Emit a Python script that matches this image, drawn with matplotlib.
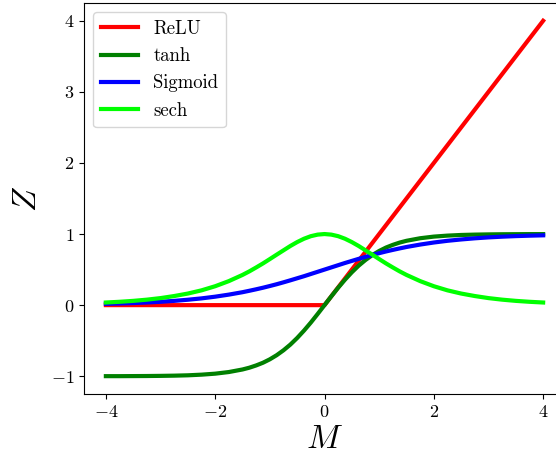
import matplotlib
matplotlib.use("Agg")
import matplotlib.pyplot as plt

plt.rcParams["font.family"] = "serif"
plt.rcParams["font.serif"] = ["cmr10"]
plt.rcParams["mathtext.fontset"] = "cm"
plt.rcParams["axes.formatter.use_mathtext"] = True

# sample positions along M (denser near the centre)
m = [-4.0, -3.75, -3.5, -3.25, -3.0, -2.75, -2.5, -2.25, -2.0, -1.75, -1.5,
     -1.375, -1.25, -1.125, -1.0, -0.875, -0.75, -0.625, -0.5, -0.375,
     -0.25, -0.125, 0.0, 0.125, 0.25, 0.375, 0.5, 0.625, 0.75, 0.875, 1.0,
     1.125, 1.25, 1.375, 1.5, 1.75, 2.0, 2.25, 2.5, 2.75, 3.0, 3.25, 3.5,
     3.75, 4.0]

relu_m = [-4.0, 0.0, 4.0]
relu_z = [0.0, 0.0, 4.0]

tanh_z = [-0.999, -0.999, -0.998, -0.997, -0.995, -0.992, -0.987, -0.978,
          -0.964, -0.941, -0.905, -0.880, -0.848, -0.810, -0.762, -0.704,
          -0.635, -0.555, -0.462, -0.358, -0.245, -0.124, 0.0, 0.124, 0.245,
          0.358, 0.462, 0.555, 0.635, 0.704, 0.762, 0.810, 0.848, 0.880,
          0.905, 0.941, 0.964, 0.978, 0.987, 0.992, 0.995, 0.997, 0.998,
          0.999, 0.999]

sigmoid_z = [0.018, 0.023, 0.029, 0.037, 0.047, 0.060, 0.076, 0.095, 0.119,
             0.148, 0.182, 0.202, 0.223, 0.245, 0.269, 0.294, 0.321, 0.349,
             0.378, 0.407, 0.438, 0.469, 0.5, 0.531, 0.562, 0.593, 0.622,
             0.651, 0.679, 0.706, 0.731, 0.755, 0.777, 0.798, 0.818, 0.852,
             0.881, 0.905, 0.924, 0.940, 0.953, 0.963, 0.971, 0.977, 0.982]

sech_z = [0.037, 0.047, 0.060, 0.077, 0.099, 0.128, 0.163, 0.208, 0.266,
          0.338, 0.425, 0.475, 0.530, 0.587, 0.648, 0.710, 0.771, 0.832,
          0.887, 0.934, 0.970, 0.992, 1.0, 0.992, 0.970, 0.934, 0.887, 0.832,
          0.771, 0.710, 0.648, 0.587, 0.530, 0.475, 0.425, 0.338, 0.266,
          0.208, 0.163, 0.128, 0.099, 0.077, 0.060, 0.047, 0.037]

fig = plt.figure(figsize=(5.56, 4.58), dpi=100)
ax = fig.add_axes([84 / 556, 64 / 458, 481 / 556, 391 / 458])

ax.plot(relu_m, relu_z, color="red", lw=3, label="ReLU")
ax.plot(m, tanh_z, color="green", lw=3, label="tanh")
ax.plot(m, sigmoid_z, color="blue", lw=3, label="Sigmoid")
ax.plot(m, sech_z, color="lime", lw=3, label="sech")

ax.set_xlim(-4.4, 4.4)
ax.set_ylim(-1.25, 4.25)
ax.set_xticks([-4, -2, 0, 2, 4])
ax.set_yticks([-1, 0, 1, 2, 3, 4])
ax.tick_params(labelsize=13)
ax.set_xlabel("$M$", fontsize=24, labelpad=4)
ax.set_ylabel("$Z$", fontsize=24, labelpad=6)
ax.legend(loc="upper left", fontsize=13.5)

fig.savefig("out.png", dpi=100)
